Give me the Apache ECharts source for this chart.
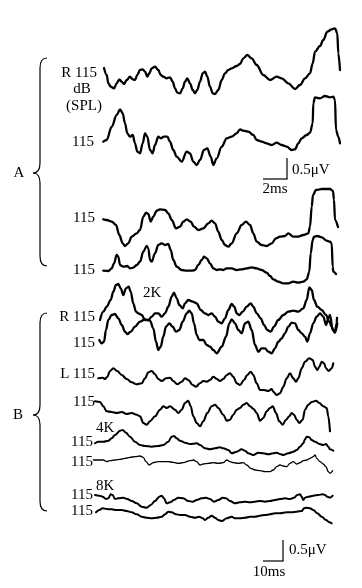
<!DOCTYPE html>
<html><head><meta charset="utf-8">
<script src="https://cdn.jsdelivr.net/npm/echarts@6/dist/echarts.min.js"></script>
<style>html,body{margin:0;padding:0;background:#fff}#c{width:362px;height:588px}</style>
</head><body><div id="c"></div>
<script>
// ---- Data: [time, amplitude] (arbitrary units) ----
const traceA1 = [[4,-3],[6.7,-10],[8.3,-18.3],[10.7,-21.7],[14,-23.3],[16.7,-18.3],[19.3,-14.3],[21.7,-16.7],[24,-19],[26.7,-15],[30,-11.7],[32.7,-14.3],[35,-15],[37.3,-10],[40,-5],[42.7,-4.3],[45,-6.7],[47.3,-11.7],[49.3,-8.3],[51.7,-3.3],[55,-1.7],[58.3,-5],[60.7,-10],[63.3,-11.7],[66.7,-13.3],[70,-12.3],[72.7,-16.7],[75,-23.3],[77.3,-27.7],[80,-28.3],[82.7,-23.3],[85,-16.7],[87.3,-13.3],[90,-18.3],[92.7,-25],[95,-28.3],[97.3,-25],[100,-16.7],[102.7,-8.3],[105,-6.7],[107.3,-11.7],[110,-21.7],[112.7,-28.3],[115,-29],[118.3,-25],[121.7,-15],[125,-8.3],[128.3,-5],[131.7,-3.3],[136.7,-1],[140,1],[143.3,6.7],[147.3,10],[151.7,6.7],[156.7,0],[163.3,-10],[170,-15],[176.7,-11.7],[181.7,-13.3],[188.3,-18.3],[195,-24],[200,-20],[205,-13.3],[210,-8.3],[212.7,1.7],[215,13.3],[220,19],[223.3,25],[227.3,33.3],[231.7,35.7],[235,36.7],[237.3,31.7],[238.3,11.7],[240,-5]];
const traceA2 = [[3.3,-6.7],[6.7,-5],[11.7,8.3],[16.7,20],[20,25.7],[22.7,21.7],[25,11.7],[27.3,1.7],[30,-1.7],[32.7,0],[35,-8.3],[37.3,-16.7],[40,-18.3],[42.7,-8.3],[45,1.7],[47.3,-1.7],[50,-15],[52.7,-18.3],[55,-10],[58.3,-1.7],[60.7,-3.3],[64,-1.7],[67.3,-1.7],[70,-6.7],[73.3,-15],[76.7,-21.7],[81.7,-26.7],[86.7,-16.7],[90,-18.3],[93.3,-26.7],[96.7,-30],[100,-25],[104,-15],[107.3,-13.3],[110.7,-21.7],[113.3,-30],[116.7,-23.3],[121.7,-11.7],[126.7,-3.3],[131.7,-1.7],[136.7,1.7],[140,5.7],[143.3,4.3],[148.3,3.3],[153.3,0],[156.7,-5],[161.7,-6.7],[166.7,-8.3],[171.7,-10],[176.7,-7.7],[181.7,-10],[186.7,-11.7],[191.7,-15],[195,-14.3],[198.3,-8.3],[201.7,-3.3],[206.7,0],[210,2.3],[212.7,11.7],[213.3,31.7],[215,37.7],[220,36.7],[225,39],[230,37.7],[233.3,38.3],[235,35],[236,5],[238.3,-1.7],[240,-8.3]];
const traceA3 = [[3.3,5.7],[6.7,5],[11.7,3.3],[16,0],[19.3,-10],[22.7,-18.3],[25,-21],[28.3,-18.3],[31.7,-11.7],[36.7,-8.3],[40,-5],[43.3,8.3],[46,12.3],[48.3,11],[50.7,3.3],[53.3,8.3],[56.7,14.3],[60,15.7],[65,15],[68.3,11.7],[71.7,5],[76,-3.3],[80,-1.7],[83.3,3.3],[86.7,5.7],[90.7,3.3],[94,-1.7],[98.3,-5],[103.3,-3.3],[108.3,1.7],[111.7,4.3],[115,1.7],[118.3,-6.7],[121.7,-15],[125,-20],[128.3,-21.7],[131.7,-18.3],[136.7,-8.3],[141.7,0],[146,3.3],[150,0],[153.3,-8.3],[156.7,-16.7],[161.7,-20],[166.7,-21],[171.7,-18.3],[176,-13.3],[180,-11.7],[185,-11],[188.3,-8.3],[193.3,-11.7],[198.3,-11.7],[203.3,-10],[208.3,-8.3],[210,-1.7],[211.7,18.3],[213,30],[216,35],[222,36],[230,36],[233,34],[234,25],[235,5],[238,-2]];
const traceA4 = [[3.3,-5.7],[8.3,-6],[11.7,-3.3],[14,1.7],[16.7,10],[18.3,8.3],[20,0],[23.3,-1.7],[27.3,-1],[30,-3.3],[33.3,-2.7],[36.7,0],[40,3.3],[43.3,13.3],[46.7,19],[48.3,16.7],[50,5],[51.7,3.3],[55,11.7],[58.3,20],[61.7,21.7],[65,20],[68.3,21],[70.7,15],[73.3,5],[76.7,-1.7],[81.7,-5],[86.7,-5.7],[91.7,-5.7],[95,-5],[98.3,0],[101.7,5],[104,8.3],[106.7,6.7],[110,1.7],[113.3,-3.3],[116.7,-5],[120,-4.3],[123.3,-5],[126.7,-3.3],[131.7,-3.3],[136.7,-5],[141.7,-4.3],[146.7,-3.3],[151.7,-2.3],[156.7,-3.3],[161.7,-5],[166.7,-7.7],[170,-11],[173.3,-14.3],[178.3,-16.7],[183.3,-18.3],[188.3,-18.3],[193.3,-16.7],[198.3,-17.7],[203.3,-16.7],[206.7,-14.3],[209.3,-6.7],[210.7,11.7],[212.7,25],[214,28.3],[217.3,29],[221.7,27.7],[226.7,24.3],[230,23.3],[231.7,21.7],[232.7,-1.7],[233.3,-6.7],[236,-9]];
const traceB1 = [[0,-10],[3.3,-1.7],[6.7,3.3],[10.7,10],[13.3,18.3],[16,25],[18.3,26],[20.7,21.7],[23.3,15],[26,21.7],[28.7,23.3],[30.7,18.3],[33.3,6.7],[36,-1.7],[38.3,-3.3],[41.7,-5],[45,-10],[48.3,-10],[51.7,-6.7],[55,-3.3],[58.3,-3.3],[61.7,-6.7],[65,-3.3],[68.3,3.3],[71.7,13.3],[74,17.3],[76.7,11.7],[79.3,5],[82.7,1.7],[85,6.7],[88.3,10],[92.7,8.3],[96.7,6.7],[100.7,0],[105,-3.3],[108.3,-5],[111.7,-3.3],[115,-6.7],[118.3,-11.7],[121.7,-13.3],[125,-8.3],[128.3,0],[131.7,6],[134.3,3.3],[136.7,-3.3],[139.3,-5],[142.7,-1.7],[146.7,3.3],[150.7,6.7],[153.3,3.3],[156.7,-3.3],[160.7,-8.3],[164,-15],[167.3,-20],[170.7,-21.7],[174,-16.7],[178.3,-10],[183.3,-5],[188.3,-1.7],[193.3,-0.7],[198.3,-1.7],[203.3,1.7],[206.7,10],[209.3,22.7],[211.7,20],[214,10],[217.3,3.3],[221.7,0],[226,-5],[229.3,-11.7],[231.7,-16.7],[233.3,-20],[235,-21.7],[236.7,-13.3],[237,-8]];
const traceB2 = [[-0.7,-5],[1.7,-8.3],[4,-6.7],[6,5],[8.3,15],[11.7,20],[15,21],[18.3,16.7],[21.7,10],[25,3.3],[27.3,1],[30.7,3.3],[35,8.3],[40,13.3],[45,15.7],[50,14.3],[53.3,6.7],[56,-6.7],[58.3,-15],[60.7,-11.7],[63.3,-1.7],[66,8.3],[69.3,11.7],[72.7,8.3],[76,3.3],[79.3,5],[82.7,13.3],[86.7,21.7],[89.3,24.3],[91.7,21.7],[94,11.7],[96.7,0],[99.3,-5],[103.3,-5],[106.7,-10],[110,-11.7],[113.3,-15],[116.7,-18.3],[121.7,-11.7],[126,-1.7],[129.3,11.7],[131.7,15.7],[135,11.7],[138.3,5],[141.7,1.7],[145,11.7],[148.3,13.3],[151.7,5],[155,-10],[158.3,-16.7],[161.7,-13.3],[165,-13.3],[168.3,-16.7],[171.7,-18.3],[175,-13.3],[178.3,-6.7],[181.7,-3.3],[185,1.7],[188.3,8.3],[191.7,12.3],[195,11.7],[198.3,5],[201.7,1.7],[205,-1.7],[207.3,-6.7],[210,1.7],[213.3,11.7],[216.7,18.3],[220,21.7],[223.3,18.3],[226,10],[228.3,16.7],[230,20],[232.7,5],[235,2.3],[237.3,11.7]];
const traceB3 = [[-1.7,1.7],[2.7,2.3],[5,1],[7.3,3.3],[10,9],[13.3,11.7],[17.3,9],[21.7,5],[26.7,1],[31.7,-2.3],[36.7,-4.3],[41.7,-3.3],[45,1.7],[48.3,7.7],[51.7,9],[55,5.7],[58.3,1],[61.7,-1],[66,1.7],[70,2.3],[73.3,-1],[77.3,-4.3],[81.7,-1.7],[85,1.7],[88.3,0],[92.7,-5],[96,-6.7],[100,-3.3],[103.3,-1],[106.7,-1.7],[110,0],[113.3,3.3],[116.7,1],[120,-1],[123.3,1],[126.7,5],[130,6.7],[133.3,3.3],[136.7,-3.3],[140,-5],[144,0],[147.3,5],[150.7,8.3],[153.3,5],[156.7,-3.3],[160,-10],[164,-10],[168.3,-11],[171.7,-9],[173.3,-11.7],[176.7,-15],[180,-13.3],[183.3,-6.7],[186.7,1.7],[190,6.7],[193.3,1.7],[196,-1.7],[198.3,1.7],[201.7,11.7],[205,18.3],[209.3,21.7],[212.7,20],[215,13.3],[217.3,10],[219.3,13.3],[221.7,18.3],[224,16.7],[226,11.7],[228.7,9],[231.7,11.7],[233.3,16.7]];
const traceB4 = [[-5,10.7],[0,10],[3.3,5.7],[6.7,0.7],[11.7,0],[16.7,-1],[21.7,0],[26.7,-2],[31.7,-1],[36.7,-2.7],[40,-4.3],[43.3,-11],[46.7,-12.7],[50,-9.3],[55,-4.3],[60,2.3],[63.3,5.7],[66.7,4],[70,5.7],[75,2.3],[78.3,-1],[81.7,2.3],[85,9],[88.3,11.3],[90.7,5.7],[93.3,-4.3],[96.7,-11],[100,-14.3],[103.3,-9.3],[107.3,-1],[111.7,5.7],[115,7.3],[118.3,4],[123.3,-2.7],[126.7,-8.7],[130,-7.7],[133.3,-2.7],[136.7,2.3],[140,4],[143.3,7.3],[146.7,9],[150,5.7],[153.3,3.3],[156.7,-1],[160,-8.7],[163.3,-6],[166.7,0.7],[170,4],[172.7,5.7],[176,-1],[179.3,-9.3],[182.7,-12.7],[186,-7.7],[189.3,-4.3],[191.7,-1],[194,-2.7],[196.7,-7.7],[199.3,-11],[202.7,-7.7],[205,2.3],[208.3,7.3],[211.7,10],[216,11.3],[219.3,9],[223.3,5.7],[226.7,4],[228.3,-4.3],[230,-19.3]];
const traceB5 = [[-5,1.7],[-1.7,3.3],[3.3,3.3],[8.3,4.3],[11.7,6.7],[15,10],[20,14.3],[22.7,15],[26,12.3],[30,8.3],[35,3.3],[40,0],[45,-1],[51.7,-1.7],[58.3,-1],[63.3,0],[68.3,3.3],[71.7,8.3],[74,9],[76.7,6.7],[80,4.3],[85,2.3],[90,1],[96.7,1.7],[100,0],[105,-3.3],[110,-4.3],[115,-3.3],[120,-2.3],[123.3,-3.3],[128.3,-5],[131.7,-8.3],[136.7,-6.7],[141.7,-4.3],[145,-5.7],[148.3,-8.3],[153.3,-10],[158.3,-7.7],[163.3,-8.3],[168.3,-9.3],[173.3,-8.3],[176.7,-7.7],[180,-9],[183.3,-10],[188.3,-8.3],[193.3,-6.7],[196.7,-5],[200,-1.7],[203.3,1.7],[205,5.7],[206.7,8.3],[209.3,7.7],[211.7,5],[215,3.3],[219.3,1],[223.3,0],[226,1],[228.3,-1.7],[230,-4.3],[233.3,-5.7]];
const traceB6 = [[-6.7,2],[-1.7,2],[3.3,2],[6.7,0.3],[10,1.3],[15,2],[20,2.7],[25,3.7],[30,4.7],[35,5.3],[40,6],[43.3,4.7],[46,0.3],[49.3,-3],[53.3,-0.7],[58.3,0.3],[63.3,0.3],[68.3,0.3],[73.3,-0.3],[78.3,-1.3],[83.3,-0.7],[90,1.3],[93.3,2],[96.7,0.3],[100,-3],[103.3,-2],[108.3,-1.3],[113.3,-0.7],[118.3,-1.3],[123.3,-0.7],[126.7,2],[130,0.3],[133.3,-0.7],[138.3,-1.3],[143.3,-0.7],[146.7,-3],[150.7,-6.3],[155,-8],[160,-8.7],[165,-9.7],[170,-9.7],[173.3,-8],[176.7,-4.7],[180,-3],[183.3,-4],[186.7,-4.7],[190,-1.3],[193.3,0.3],[196.7,-2],[200,-0.7],[203.3,1.3],[206.7,2],[210,3.7],[213.3,5.3],[215,7],[216.7,3.7],[220,0.3],[223.3,-2],[226,-4.7],[228.3,-9.7],[230,-11.3],[232.7,-8.7]];
const traceB7 = [[-5,5],[-0.7,4.3],[2.7,3.3],[6,1],[8.3,1.7],[10.7,5.7],[12.7,5],[15,1],[18.3,1.7],[23.3,2.3],[27.3,1],[31.7,-1],[36.7,-3.3],[41.7,-6.7],[46.7,-7.7],[50.7,-5],[55,-1],[59.3,3.3],[61.7,4.3],[64,1.7],[66.7,-3.3],[70,-2.3],[74,0],[78.3,2.3],[83.3,1.7],[88.3,-1],[92.7,-1.7],[96.7,0],[101.7,1.7],[106,2.3],[110,1],[114,-1.7],[118.3,0],[122.7,2.3],[126,1.7],[130,-1],[135,-3.3],[140,-2.3],[145,-1.7],[150,-2.3],[155,-1.7],[160,-1],[165,-1.7],[170,-1],[175,0],[180,1],[185,1.7],[190,1],[194,2.3],[197.3,5],[200,5.7],[201.7,3.3],[203.3,0],[205,2.3],[208.3,3.3],[213.3,4.3],[218.3,5],[222.7,5.7],[225,5],[227.3,3.3],[230,2.3],[232.7,4.3]];
const traceB8 = [[-4,2.7],[-0.7,5],[2.7,6.7],[6.7,6],[11.7,5.7],[16.7,5],[21.7,5],[26.7,4],[31.7,2.7],[36.7,0.7],[41.7,-1.7],[46.7,-2.7],[51.7,-3.3],[56.7,-2.7],[61.7,-1.7],[65,0.7],[68.3,3.3],[71.7,2.7],[76,0.7],[80,0],[85,0],[90,-1.7],[95,-2.7],[99.3,-1.7],[102.7,-3.3],[105,-5],[108.3,-2.7],[111.7,-0.7],[115,-2.7],[118.3,-5],[121.7,-6],[126.7,-3.3],[131.7,-1.7],[135,-3.3],[140,-3.3],[145,-2.7],[150,-1.7],[155,-1.7],[160,-0.7],[165,0],[170,0.7],[175,1.7],[180,1.7],[186.7,2.7],[191.7,2.7],[196.7,3.3],[201.7,4],[204,6.7],[206.7,7.3],[210,6.7],[213.3,5],[217.3,1.7],[221.7,-1.7],[226,-5],[229.3,-7.3],[231.7,-8.3]];

const traceLabels = ['R 115','115','115','115','R 115','115','L 115','115','115','115','115','115'];
const unitLabels = ['dB','(SPL)'];
const groupNames = ['A','B'];
const freqLabels = ['2K','4K','8K'];
const scaleLabelsA = ['0.5\u03bcV','2ms'];
const scaleLabelsB = ['0.5\u03bcV','10ms'];

// ---- Layout ----
const traces = [traceA1,traceA2,traceA3,traceA4,traceB1,traceB2,traceB3,traceB4,traceB5,traceB6,traceB7,traceB8];
const rowBase = [65,135,225,265,310,335,380,412,445,462,500,515];
const rowWidth = [2.3,2.3,2.3,2.3,2.3,2.3,2.1,2.1,2,1.3,2,2];
const labelPos = [[97,73],[94,142],[95,218],[95,270],[95,317],[95,343],[95,374],[95,402],[93,442],[93,462],[93,495],[93,511]];
const FONT = '15px "Liberation Serif", "Times New Roman", serif';

const grids = [], xAxes = [], yAxes = [], series = [];
traces.forEach((d, i) => {
  grids.push({left: 90, width: 260, top: rowBase[i] - 50, height: 100, containLabel: false});
  xAxes.push({type: 'value', gridIndex: i, min: -10, max: 250, show: false});
  yAxes.push({type: 'value', gridIndex: i, min: -50, max: 50, show: false});
  series.push({type: 'line', xAxisIndex: i, yAxisIndex: i, data: d, showSymbol: false,
    smooth: 0.35, smoothMonotone: 'x', silent: true,
    lineStyle: {color: '#000', width: rowWidth[i], join: 'round', cap: 'round'}});
});

const g = [];
function txt(t, x, y, align) {
  g.push({type: 'text', x: x, y: y, silent: true,
    style: {text: t, font: FONT, fill: '#000', textAlign: align || 'right', textVerticalAlign: 'middle'}});
}
function ln(x1, y1, x2, y2, w) {
  g.push({type: 'line', silent: true, shape: {x1, y1, x2, y2}, style: {stroke: '#000', lineWidth: w || 1.2}});
}
function bz(x1, y1, cx, cy, x2, y2) {
  g.push({type: 'bezierCurve', silent: true, shape: {x1, y1, cpx1: cx, cpy1: cy, x2, y2},
    style: {stroke: '#000', lineWidth: 1.2, fill: null}});
}
function brace(top, mid, bot) {
  bz(47, top, 40, top, 40, top + 10);
  ln(40, top + 10, 40, mid - 10);
  bz(40, mid - 10, 40, mid, 33, mid);
  bz(33, mid, 40, mid, 40, mid + 10);
  ln(40, mid + 10, 40, bot - 10);
  bz(40, bot - 10, 40, bot, 47, bot);
}
traceLabels.forEach((t, i) => txt(t, labelPos[i][0], labelPos[i][1], 'right'));
txt(unitLabels[0], 82, 89, 'center');
txt(unitLabels[1], 84, 106, 'center');
txt(groupNames[0], 19, 173, 'center');
txt(groupNames[1], 18, 415, 'center');
txt(freqLabels[0], 143, 293, 'left');
txt(freqLabels[1], 96, 428, 'left');
txt(freqLabels[2], 96, 486, 'left');
brace(58, 173, 266);
brace(313, 415, 511);
// scale bars
ln(287, 158, 287, 179); ln(263, 179, 287.5, 179);
txt(scaleLabelsA[0], 292, 170, 'left');
txt(scaleLabelsA[1], 275, 189, 'center');
ln(283, 540, 283, 561); ln(263, 561, 283.5, 561);
txt(scaleLabelsB[0], 289, 550, 'left');
txt(scaleLabelsB[1], 269, 572, 'center');

const chart = echarts.init(document.getElementById('c'), null, {renderer: 'canvas'});
chart.setOption({
  animation: false,
  backgroundColor: '#fff',
  grid: grids, xAxis: xAxes, yAxis: yAxes, series: series,
  graphic: {elements: g}
});
</script></body></html>
